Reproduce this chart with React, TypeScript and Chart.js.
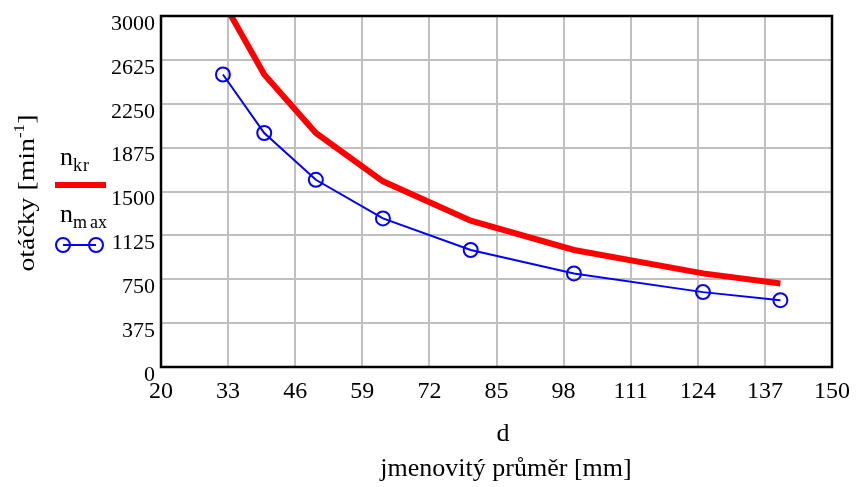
import React, { useEffect, useRef } from "react";
import { Chart, registerables } from "chart.js";
Chart.register(...registerables);

// Data (nominal diameter d [mm] vs. speed [min^-1])
const diameters = [32, 40, 50, 63, 80, 100, 125, 140];
const nKr = [3125, 2500, 2000, 1587, 1250, 1000, 800, 714];
const nMax = [2500, 2000, 1600, 1270, 1000, 800, 640, 571];
const xTicks = [20, 33, 46, 59, 72, 85, 98, 111, 124, 137, 150];
const yTicks = [0, 375, 750, 1125, 1500, 1875, 2250, 2625, 3000];

const SERIF = "'Liberation Serif', 'Times New Roman', serif";

const extras = {
  id: "extras",
  afterDatasetsDraw(chart: any) {
    const { ctx, chartArea: a } = chart;
    ctx.save();
    ctx.strokeStyle = "#000";
    ctx.lineWidth = 2.5;
    ctx.strokeRect(a.left, a.top, a.right - a.left, a.bottom - a.top);
    ctx.restore();
  },
  afterDraw(chart: any) {
    const { ctx } = chart;
    ctx.save();
    ctx.fillStyle = "#000";
    // Y axis title with superscript
    const main = "otáčky [min";
    const sup = "-1";
    const end = "]";
    ctx.font = `24px ${SERIF}`;
    const w1 = ctx.measureText(main).width;
    const w3 = ctx.measureText(end).width;
    ctx.font = `15px ${SERIF}`;
    const w2 = ctx.measureText(sup).width;
    const total = w1 + w2 + w3;
    const stretch = 157 / total;
    ctx.translate(34, 193);
    ctx.rotate(-Math.PI / 2);
    ctx.scale(stretch, 1);
    ctx.textBaseline = "alphabetic";
    ctx.textAlign = "left";
    let x = -total / 2;
    ctx.font = `24px ${SERIF}`;
    ctx.fillText(main, x, 0);
    x += w1;
    ctx.font = `15px ${SERIF}`;
    ctx.fillText(sup, x, -10);
    x += w2;
    ctx.font = `24px ${SERIF}`;
    ctx.fillText(end, x, 0);
    ctx.setTransform(1, 0, 0, 1, 0, 0);

    // X axis labels
    ctx.textAlign = "center";
    ctx.textBaseline = "alphabetic";
    ctx.font = `26px ${SERIF}`;
    ctx.fillText("d", 503, 441);
    ctx.fillText("jmenovitý průměr [mm]", 506, 476);

    // Legend
    ctx.textAlign = "left";
    ctx.font = `26px ${SERIF}`;
    ctx.fillText("n", 60, 165);
    ctx.font = `18px ${SERIF}`;
    ctx.fillText("k", 73, 171);
    ctx.fillText("r", 83, 171);
    ctx.fillStyle = "#ff0000";
    ctx.fillRect(55, 182, 51, 6);

    ctx.fillStyle = "#000";
    ctx.font = `26px ${SERIF}`;
    ctx.fillText("n", 60, 222);
    ctx.font = `18px ${SERIF}`;
    ctx.fillText("m", 73, 228);
    ctx.fillText("ax", 90, 228);

    ctx.strokeStyle = "#0000ff";
    ctx.lineWidth = 2;
    ctx.beginPath();
    ctx.moveTo(63, 245);
    ctx.lineTo(96, 245);
    ctx.stroke();
    for (const cx of [63, 96]) {
      ctx.beginPath();
      ctx.arc(cx, 245, 7, 0, Math.PI * 2);
      ctx.stroke();
    }
    ctx.restore();
  },
};

export default function App() {
  const ref = useRef<HTMLCanvasElement | null>(null);
  useEffect(() => {
    if (!ref.current) return;
    const chart = new Chart(ref.current, {
      type: "line",
      data: {
        datasets: [
          {
            label: "n_kr",
            data: diameters.map((d, i) => ({ x: d, y: nKr[i] })),
            borderColor: "#ff0000",
            borderWidth: 6,
            pointRadius: 0,
            tension: 0,
            fill: false,
            clip: 0,
          },
          {
            label: "n_max",
            data: diameters.map((d, i) => ({ x: d, y: nMax[i] })),
            borderColor: "#0000ff",
            borderWidth: 2,
            pointRadius: 7,
            pointBorderWidth: 2,
            pointBorderColor: "#0000ff",
            pointBackgroundColor: "rgba(0,0,0,0)",
            tension: 0,
            fill: false,
            clip: 12,
          },
        ],
      },
      options: {
        animation: false,
        responsive: true,
        maintainAspectRatio: false,
        layout: { padding: { left: 0, top: 16, right: 24, bottom: 0 } },
        plugins: { legend: { display: false }, tooltip: { enabled: false } },
        scales: {
          x: {
            type: "linear",
            min: 20,
            max: 150,
            afterBuildTicks: (s: any) => {
              s.ticks = xTicks.map((v) => ({ value: v }));
            },
            afterFit: (s: any) => {
              s.height = 120;
              s.paddingLeft = 0;
              s.paddingRight = 0;
            },
            grid: { color: "#c0c0c0", lineWidth: 2, drawTicks: false },
            border: { display: false },
            ticks: {
              padding: 10,
              color: "#000",
              font: { family: SERIF, size: 24 },
              maxRotation: 0,
              autoSkip: false,
              callback: (v: any) => String(v),
            },
          },
          y: {
            type: "linear",
            min: 0,
            max: 3000,
            afterBuildTicks: (s: any) => {
              s.ticks = yTicks.map((v) => ({ value: v }));
            },
            afterFit: (s: any) => {
              s.width = 161;
              s.paddingTop = 0;
              s.paddingBottom = 0;
            },
            grid: { color: "#c0c0c0", lineWidth: 2, drawTicks: false },
            border: { display: false },
            ticks: {
              padding: 6,
              labelOffset: 8,
              color: "#000",
              font: { family: SERIF, size: 22 },
              autoSkip: false,
              callback: (v: any) => String(v),
            },
          },
        },
      },
      plugins: [extras],
    } as any);
    return () => chart.destroy();
  }, []);
  return (
    <div style={{ position: "fixed", left: 0, top: 0, width: 856, height: 487, background: "#fff" }}>
      <canvas ref={ref} />
    </div>
  );
}
